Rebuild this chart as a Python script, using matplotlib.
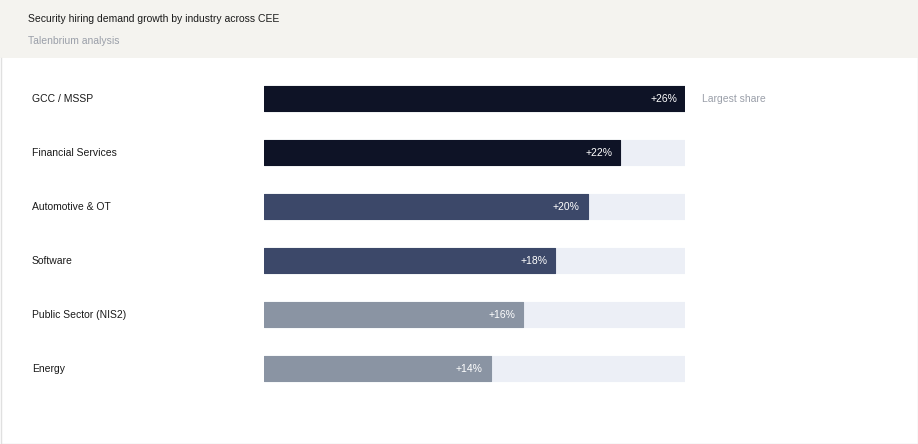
import matplotlib
matplotlib.use('Agg')

import matplotlib.pyplot as plt
from matplotlib.patches import Rectangle
from matplotlib.lines import Line2D

# ---------------------------
# DADOS
# ---------------------------
industries = ["GCC / MSSP", "Financial Services", "Automotive & OT",
              "Software", "Public Sector (NIS2)", "Energy"]
growth = [26, 22, 20, 18, 16, 14]
bar_colors = ["#0e1326", "#0e1326", "#3c4869", "#3c4869", "#8a94a3", "#8a94a3"]
value_labels = ["+26%", "+22%", "+20%", "+18%", "+16%", "+14%"]
note = "Largest share"

title = "Security hiring demand growth by industry across CEE"
subtitle = "Talenbrium analysis"

plt.rcParams['font.family'] = ['Liberation Sans', 'DejaVu Sans']
FS = 7.45

W, H = 918, 444
fig = plt.figure(figsize=(W / 100, H / 100), dpi=100)
fig.patch.set_facecolor("white")

# faixa do cabeçalho
fig.patches.append(Rectangle((0, 1 - 58 / H), 1, 58 / H, transform=fig.transFigure,
                             facecolor="#f4f3ef", edgecolor="none", zorder=0))
# borda (esquerda, direita, baixo)
bx0, bx1 = 0.5 / W, 1 - 0.5 / W
by0, by1 = 0.5 / H, 1 - 58 / H
fig.lines.append(Line2D([bx0, bx0, bx1, bx1], [by1, by0, by0, by1],
                        transform=fig.transFigure, color="#e0e0e0", lw=1))

fig.text(28 / W, 1 - 19 / H, title, fontsize=FS, color="#1a1a1a", va="center")
fig.text(28 / W, 1 - 41 / H, subtitle, fontsize=FS, color="#9a9fa9", va="center")

# ---------------------------
# BARRAS
# ---------------------------
ax = fig.add_axes([264 / W, 1 - 395.5 / H, 421 / W, 324 / H])
ax.set_xlim(0, max(growth))
ax.set_ylim(len(industries) - 0.5, -0.5)
ax.axis("off")

ypos = list(range(len(industries)))
bh = 24.5 / 54
ax.barh(ypos, [max(growth)] * len(ypos), height=bh, color="#eceff6",
        edgecolor="#eceff6", lw=0.8, joinstyle="round", zorder=1)
ax.barh(ypos, growth, height=bh, color=bar_colors, edgecolor=bar_colors,
        lw=0.8, joinstyle="round", zorder=2)

px = max(growth) / 421  # unidades por pixel
for y, v, lab, name in zip(ypos, growth, value_labels, industries):
    ax.text(v - 8 * px, y, lab, color="white", fontsize=FS,
            ha="right", va="center", zorder=3)
    ax.text(-232 * px, y, name, color="#1a1a1a", fontsize=FS,
            ha="left", va="center", clip_on=False)

ax.text(max(growth) + 17 * px, 0, note, color="#9a9fa9", fontsize=FS,
        ha="left", va="center", clip_on=False)

fig.savefig("out.png", dpi=100)
